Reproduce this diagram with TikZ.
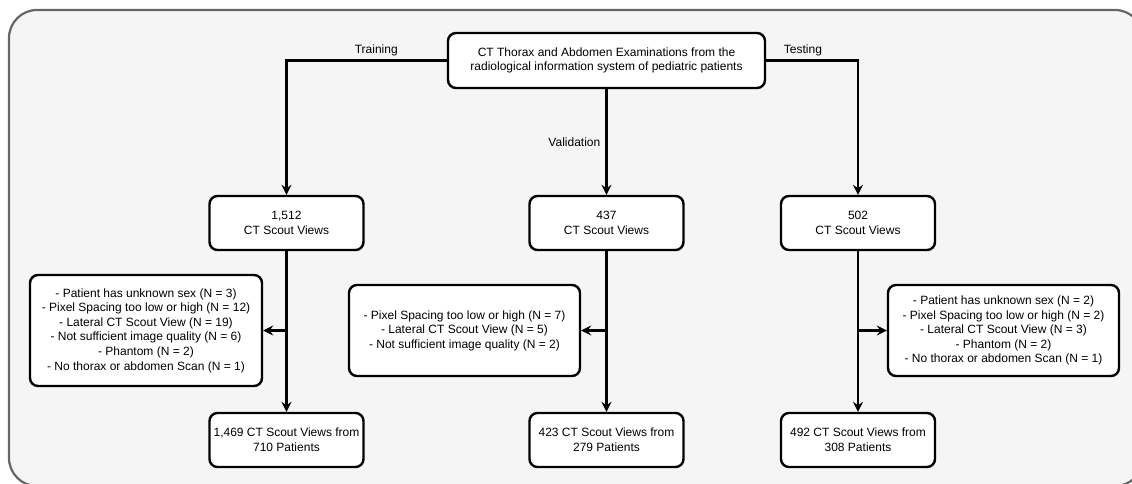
\documentclass[tikz,border=0pt]{standalone}
\usepackage{fontspec}
\setmainfont{Liberation Sans}
\usetikzlibrary{arrows.meta}
\definecolor{framegray}{HTML}{666666}
\definecolor{framefill}{HTML}{F5F5F5}

\begin{document}
\begin{tikzpicture}[
  x=1pt, y=-1pt,
  font=\fontsize{12}{14.6}\selectfont,
  box/.style={draw, fill=white, line width=2.4pt, rounded corners=8pt,
    align=center, inner sep=0pt},
  arr/.style={line width=2.4pt, -{Stealth[length=10pt,width=10pt,inset=3.5pt]}},
  lbl/.style={inner sep=3pt},
  ]
\clip (0,0) rectangle (1132,483);
\draw[framegray, fill=framefill, line width=2.2pt, rounded corners=28pt]
  (9,10) rectangle (1143,486);

\node[box, minimum width=317pt, minimum height=55pt] (src) at (606.5,60.5)
  {CT Thorax and Abdomen Examinations from the\\radiological information system of pediatric patients};

\node[box, minimum width=154pt, minimum height=54pt] (train) at (286.5,223) {1,512\\CT Scout Views};
\node[box, minimum width=154pt, minimum height=54pt] (val)   at (606.5,223) {437\\CT Scout Views};
\node[box, minimum width=154pt, minimum height=54pt] (test)  at (858,223)   {502\\CT Scout Views};

\node[box, minimum width=232pt, minimum height=111pt] (trainex) at (146,330.5)
  {- Patient has unknown sex (N = 3)\\- Pixel Spacing too low or high (N = 12)\\- Lateral CT Scout View (N = 19)\\- Not sufficient image quality (N = 6)\\- Phantom (N = 2)\\- No thorax or abdomen Scan (N = 1)};
\node[box, minimum width=231pt, minimum height=91pt] (valex) at (464.5,330.5)
  {- Pixel Spacing too low or high (N = 7)\\- Lateral CT Scout View (N = 5)\\- Not sufficient image quality (N = 2)};
\node[box, minimum width=231pt, minimum height=91pt] (testex) at (1003.5,330.5)
  {- Patient has unknown sex (N = 2)\\- Pixel Spacing too low or high (N = 2)\\- Lateral CT Scout View (N = 3)\\- Phantom (N = 2)\\- No thorax or abdomen Scan (N = 1)};

\node[box, minimum width=154pt, minimum height=54pt] (trainout) at (286.5,440) {1,469 CT Scout Views from\\710 Patients};
\node[box, minimum width=154pt, minimum height=54pt] (valout)   at (606.5,440) {423 CT Scout Views from\\279 Patients};
\node[box, minimum width=154pt, minimum height=54pt] (testout)  at (858,440)   {492 CT Scout Views from\\308 Patients};

% splits
\draw[arr] (src.west) -| node[lbl, above, pos=0.22] (ltrain) {Training} (train.north);
\draw[arr] (src.south) -- node[lbl, left, pos=0.5, xshift=-2pt] (lval) {Validation} (val.north);
\draw[arr] (src.east) -| node[lbl, above, pos=0.2] (ltest) {Testing} (test.north);

% exclusions
\draw[arr] (train.south) -- (trainout.north);
\draw[arr] (train.south |- trainex.east) -- (trainex.east);
\draw[arr] (val.south) -- (valout.north);
\draw[arr] (val.south |- valex.east) -- (valex.east);
\draw[arr] (test.south) -- (testout.north);
\draw[arr] (test.south |- testex.west) -- (testex.west);
\end{tikzpicture}
\end{document}
